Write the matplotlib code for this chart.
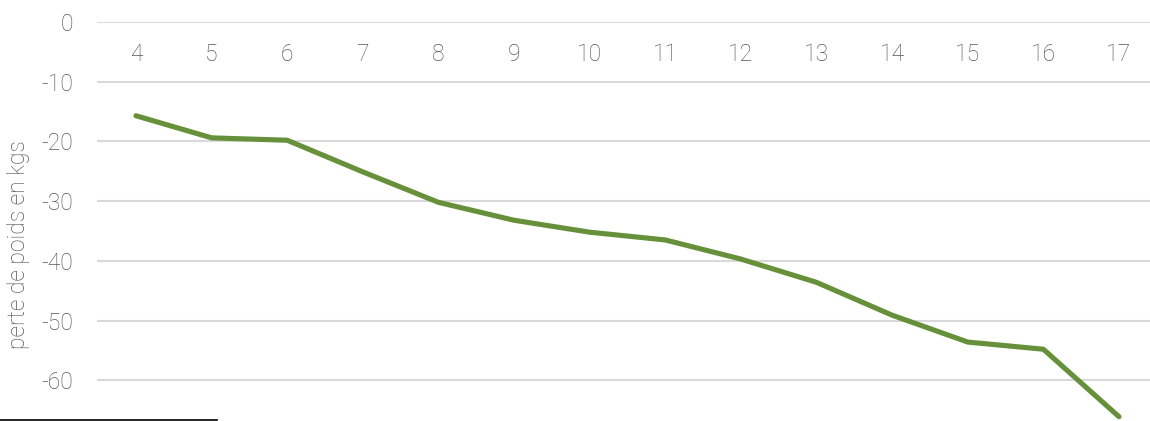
import matplotlib
matplotlib.use("Agg")
import matplotlib.pyplot as plt
from matplotlib.lines import Line2D

categories = ["4", "5", "6", "7", "8", "9", "10", "11", "12", "13", "14", "15", "16", "17"]
values = [-15.7, -19.4, -19.8, -25.1, -30.2, -33.2, -35.2, -36.5, -39.7, -43.6, -49.1, -53.6, -54.8, -66.1]
yticks = [0, -10, -20, -30, -40, -50, -60]
ylabel = "perte de poids en kgs"

plt.rcParams['font.family'] = ['Roboto', 'DejaVu Sans']
W, H = 1150, 421
fig = plt.figure(figsize=(W / 100, H / 100), dpi=100)
left, right, top, bottom = 97, 1150, 22, 440
ax = fig.add_axes([left / W, (H - bottom) / H, (right - left) / W, (bottom - top) / H])

x = list(range(len(categories)))
ax.plot(x, values, color="#66913a", lw=3.7, solid_capstyle="round", solid_joinstyle="round", zorder=3, clip_on=False)

scale = (len(categories) - 1) / (1119 - 136)
ax.set_xlim(0 - (136 - left) * scale, (len(categories) - 1) + (right - 1119) * scale)
ax.set_ylim(-70, 0)

txtcol = "#555555"
fs = 16.5
ax.set_yticks(yticks)
ax.set_yticklabels([str(t) for t in yticks])
ax.yaxis.grid(True, color="#d9d9d9", lw=1.5)
ax.set_axisbelow(True)
ax.tick_params(axis="y", length=0, pad=17, labelsize=fs, labelcolor=txtcol)

ax.set_xticks(x)
ax.set_xticklabels(categories)
ax.xaxis.tick_top()
ax.tick_params(axis="x", length=0, labelsize=fs, labelcolor=txtcol, pad=-32)

for s in ax.spines.values():
    s.set_visible(False)

for lab in ax.get_xticklabels() + ax.get_yticklabels():
    lab.set_fontweight("light")

ax.set_ylabel(ylabel, fontsize=fs, color=txtcol, fontweight="light")
ax.yaxis.set_label_coords(-0.064, 0.468)

fig.add_artist(Line2D([0, 217 / W], [1 - 420 / H, 1 - 420 / H], color="black", lw=1.2))

fig.savefig("out.png", dpi=100)
